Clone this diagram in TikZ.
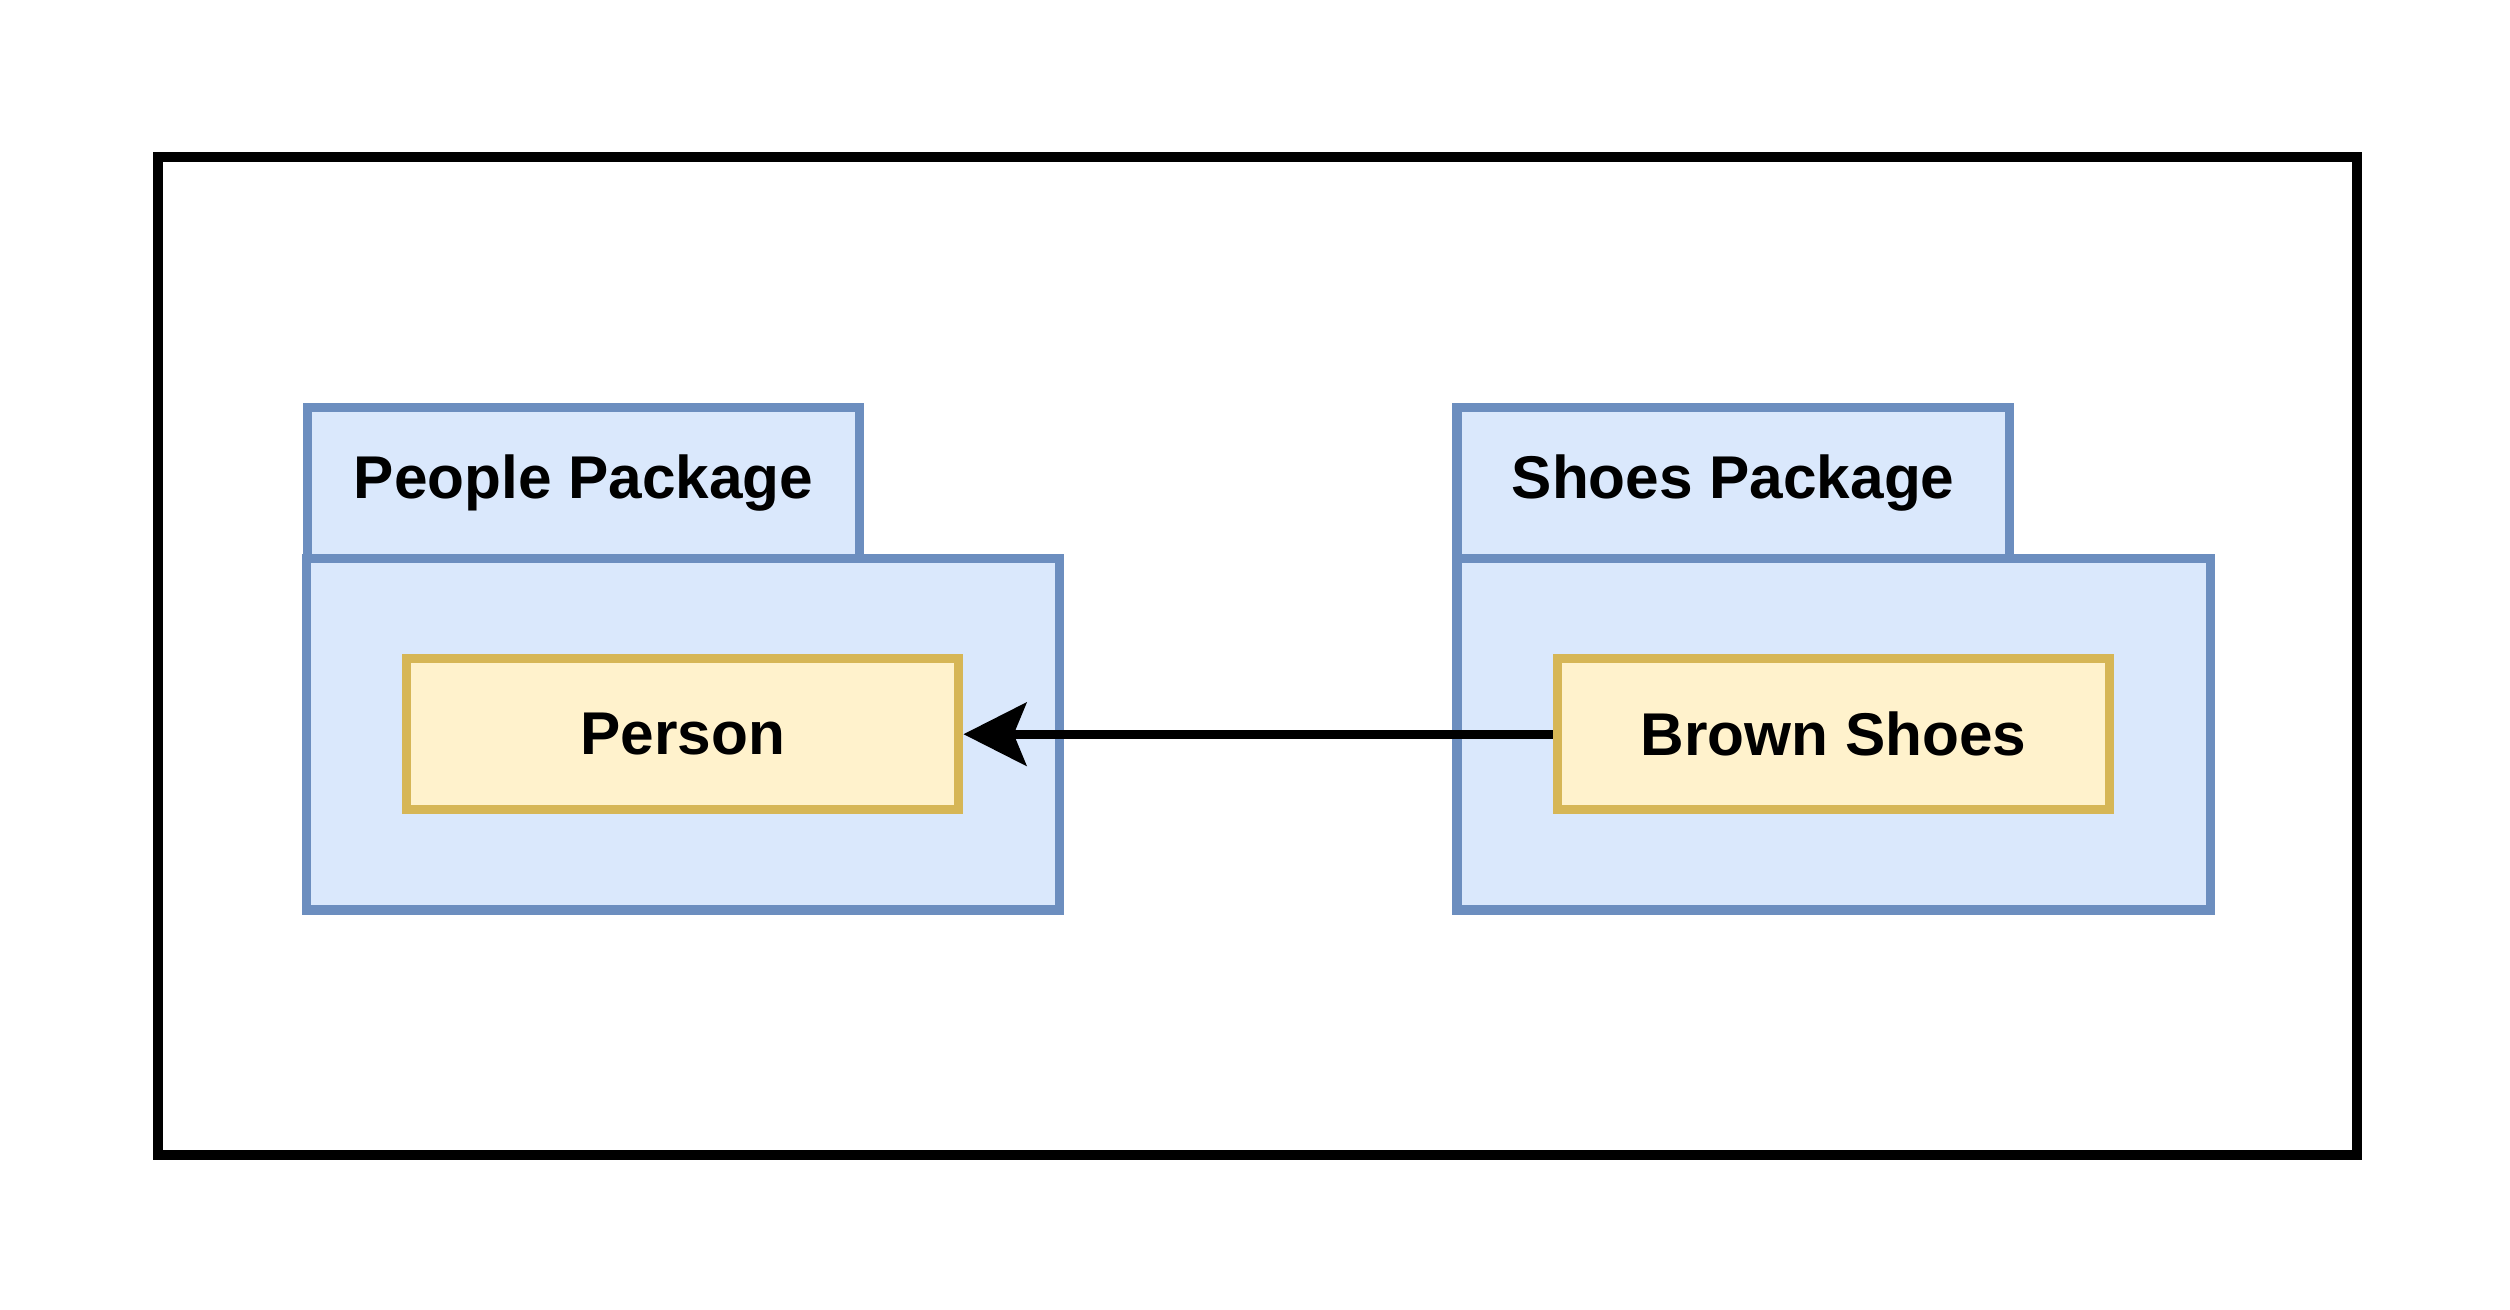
\documentclass[tikz,border=0pt]{standalone}
\usepackage{fontspec}
\setmainfont{Liberation Sans}
\usepackage{tikz}
\usetikzlibrary{arrows.meta,positioning}

\definecolor{pkgfill}{HTML}{DAE8FC}
\definecolor{pkgline}{HTML}{6C8EBF}
\definecolor{clsfill}{HTML}{FFF2CC}
\definecolor{clsline}{HTML}{D6B656}

\begin{document}
\begin{tikzpicture}
[
	x=0.025cm, y=-0.025cm,
	every node/.style={font=\fontsize{17.1}{20}\selectfont\bfseries},
	tab/.style={rectangle,draw=pkgline,fill=pkgfill,line width=2.6pt,minimum width=5.5cm,minimum height=1.5cm},
	pkgbody/.style={rectangle,draw=pkgline,fill=pkgfill,line width=2.6pt,minimum width=7.5cm,minimum height=3.5cm},
	cls/.style={rectangle,draw=clsline,fill=clsfill,line width=2.6pt,minimum width=5.5cm,minimum height=1.5cm},
	dep/.style={line width=2.6pt,-{Stealth[length=0.625cm,width=0.625cm,inset=0.125cm]}},
]
	\useasboundingbox (0,0) rectangle (1000,521.9);

	% outer frame
	\node[rectangle,draw=black,line width=2.8pt,minimum width=21.9cm,minimum height=9.94cm] (frame) at (501,261.3){};

	% people package
	\begin{scope}
		\node[tab] (peopletab) at (232.5,192.5){People Package};
		\node[pkgbody] (people) at (272,292.5){};
		\node[cls] (person) at (272,292.5){Person};
	\end{scope}

	% shoes package
	\begin{scope}
		\node[tab] (shoestab) at (690.5,192.5){Shoes Package};
		\node[pkgbody] (shoes) at (730.5,292.5){};
		\node[cls] (brown) at (730.5,292.5){Brown Shoes};
	\end{scope}

	\draw[dep] (brown) -- (person);
\end{tikzpicture}
\end{document}
